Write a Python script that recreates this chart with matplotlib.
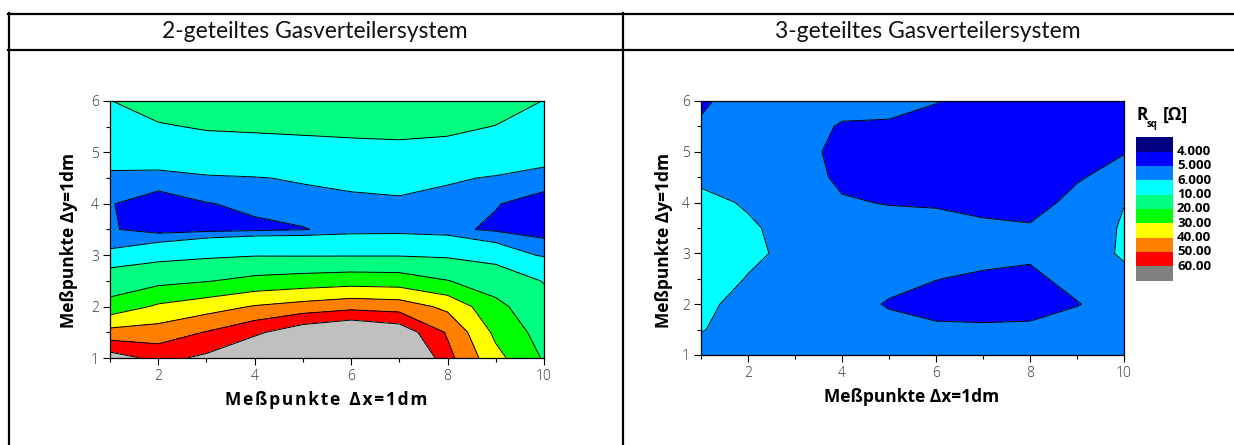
import matplotlib.pyplot as plt
from matplotlib.patches import Rectangle
import numpy as np

plt.rcParams['font.family'] = ['Open Sans', 'DejaVu Sans']

# Meßraster (Abstand 1 dm in x, 0.5 dm in y)
x_pos = [1, 2, 3, 4, 5, 6, 7, 8, 9, 10]
y_pos = [1.0, 1.5, 2.0, 2.5, 3.0, 3.5, 4.0, 4.5, 5.0, 5.5, 6.0]

# Flächenwiderstand Rsq [Ohm], eine Zeile pro y-Position
rsq_2geteilt = [
    [65.0, 57.0, 62.0, 72.0, 80.0, 80.0, 80.0, 53.0, 33.0, 19.0],
    [43.3, 44.3, 50.5, 57.9, 67.0, 72.0, 67.0, 48.8, 27.7, 16.0],
    [23.7, 31.5, 35.6, 40.7, 43.9, 46.8, 45.4, 37.6, 22.6, 13.0],
    [13.8, 17.4, 19.5, 22.7, 24.3, 25.6, 25.0, 20.3, 15.2, 9.6],
    [6.3, 7.4, 8.6, 9.56, 9.47, 9.47, 9.5, 8.84, 7.1, 5.77],
    [5.1, 4.6, 4.7, 4.8, 4.95, 5.3, 5.35, 5.2, 4.85, 4.6],
    [5.05, 4.55, 4.95, 5.2, 5.39, 5.4, 5.6, 5.3, 5.05, 4.6],
    [5.67, 5.45, 5.77, 5.9, 6.18, 6.68, 6.9, 6.26, 5.82, 5.44],
    [6.8, 7.2, 7.7, 8.07, 8.4, 8.7, 8.85, 8.46, 7.67, 6.75],
    [8.4, 9.57, 10.4, 10.6, 10.8, 11.0, 11.2, 10.9, 9.87, 8.4],
    [9.9, 12.0, 13.0, 13.0, 13.0, 13.0, 13.5, 13.0, 12.0, 9.9],
]

rsq_3geteilt = [
    [5.6, 5.6, 5.5, 5.5, 5.5, 5.45, 5.45, 5.5, 5.6, 5.6],
    [6.05, 5.6, 5.5, 5.5, 5.4, 5.15, 5.15, 5.2, 5.5, 5.6],
    [6.4, 5.4, 5.5, 5.5, 4.9, 4.7, 4.6, 4.6, 4.95, 5.5],
    [7.0, 5.9, 5.5, 5.5, 5.35, 5.02, 4.85, 4.8, 5.3, 5.7],
    [7.3, 6.4, 5.5, 5.5, 5.5, 5.45, 5.3, 5.15, 5.4, 6.15],
    [7.0, 6.2, 5.5, 5.5, 5.4, 5.35, 5.2, 5.1, 5.45, 6.1],
    [6.4, 5.85, 5.5, 5.1, 4.95, 4.9, 4.7, 4.6, 5.3, 5.98],
    [5.7, 5.6, 5.5, 4.8, 4.6, 4.5, 4.4, 4.4, 4.9, 5.4],
    [5.4, 5.5, 5.4, 4.7, 4.5, 4.4, 4.3, 4.3, 4.6, 4.95],
    [5.15, 5.5, 5.5, 4.9, 4.88, 4.6, 4.4, 4.3, 4.5, 4.7],
    [4.8, 5.6, 5.6, 5.4, 5.3, 5.05, 4.6, 4.5, 4.5, 4.6],
]

levels = [4, 5, 6, 10, 20, 30, 40, 50, 60]
level_labels = ['4.000', '5.000', '6.000', '10.00', '20.00',
                '30.00', '40.00', '50.00', '60.00']
band_colors = ['#000080', '#0000ff', '#0080ff', '#00ffff', '#00ff80',
               '#00ff00', '#ffff00', '#ff8000', '#ff0000', '#808080']

W, H = 1234, 445
fig = plt.figure(figsize=(W / 100, H / 100), dpi=100)


def px_rect(l, t, r, b):
    return [l / W, 1 - b / H, (r - l) / W, (b - t) / H]


def contour_panel(rect, z, colors):
    ax = fig.add_axes(rect)
    X, Y = np.meshgrid(x_pos, y_pos)
    Z = np.array(z)
    ax.contourf(X, Y, Z, levels=levels, colors=colors, extend='both')
    ax.contour(X, Y, Z, levels=levels, colors='k', linewidths=0.7)
    ax.set_xlim(1, 10)
    ax.set_ylim(1, 6)
    ax.set_xticks([2, 4, 6, 8, 10])
    ax.set_xticks([1, 3, 5, 7, 9], minor=True)
    ax.set_yticks([1, 2, 3, 4, 5, 6])
    ax.set_yticks([1.5, 2.5, 3.5, 4.5, 5.5], minor=True)
    ax.tick_params(which='major', length=5, width=0.8, labelsize=10,
                   labelcolor='#333333', pad=3)
    ax.tick_params(which='minor', length=3, width=0.8)
    for lbl in ax.get_xticklabels() + ax.get_yticklabels():
        lbl.set_fontweight('light')
    for sp in ax.spines.values():
        sp.set_linewidth(0.9)
    return ax


# linke Tabellenspalte: 2-geteiltes System
contour_panel(px_rect(110, 101, 544, 358), rsq_2geteilt,
              band_colors[:-1] + ['#c0c0c0'])
# rechte Tabellenspalte: 3-geteiltes System
contour_panel(px_rect(701, 101, 1124, 355), rsq_3geteilt, band_colors)

# Tabellenrahmen, Beschriftungen und Legende in Pixelkoordinaten
ov = fig.add_axes([0, 0, 1, 1])
ov.set_xlim(0, W)
ov.set_ylim(H, 0)
ov.axis('off')

ov.plot([8, W], [13.5, 13.5], color='k', lw=1.6)
ov.plot([8, W], [49.5, 49.5], color='k', lw=1.6)
ov.plot([8.5, 8.5], [13, H], color='k', lw=1.6)
ov.plot([622.5, 622.5], [13, H], color='k', lw=1.6)

title_font = dict(ha='center', va='center', fontsize=16.5, fontweight='normal',
                  color='#111111', family=['Lato', 'DejaVu Sans'])
ov.text(315, 32, '2-geteiltes Gasverteilersystem', **title_font)
ov.text(928, 32, '3-geteiltes Gasverteilersystem', **title_font)

ov.text(69, 240, 'Meßpunkte Δy=1dm', rotation=90, ha='center', va='center',
        fontsize=12.5, fontweight='bold')
spaced = '\u200a'.join('Meßpunkte') + '  ' + '\u200a'.join('Δx=1dm')
ov.text(326, 400, spaced, ha='center', va='center',
        fontsize=12.5, fontweight='bold')
ov.text(664, 241, 'Meßpunkte Δy=1dm', rotation=90, ha='center', va='center',
        fontsize=12.5, fontweight='bold')
ov.text(912, 397, 'Meßpunkte Δx=1dm', ha='center', va='center',
        fontsize=12.5, fontweight='bold')

# Farbskala
box_top, box_h = 137.3, 14.33
for i, c in enumerate(band_colors):
    ov.add_patch(Rectangle((1136, box_top + i * box_h), 37, box_h,
                           facecolor=c, edgecolor='none'))
for i, lab in enumerate(level_labels):
    ov.text(1177, box_top + (i + 1) * box_h, lab, ha='left', va='center',
            fontsize=9.5, fontweight='bold')
ov.text(1136, 115, 'R', ha='left', va='center', fontsize=12.5, fontweight='bold')
ov.text(1147, 125, 'sq', ha='left', va='center', fontsize=7, fontweight='bold')
ov.text(1163, 115, '[Ω]', ha='left', va='center', fontsize=12.5,
        fontweight='bold')

fig.savefig('out.png', dpi=100)
